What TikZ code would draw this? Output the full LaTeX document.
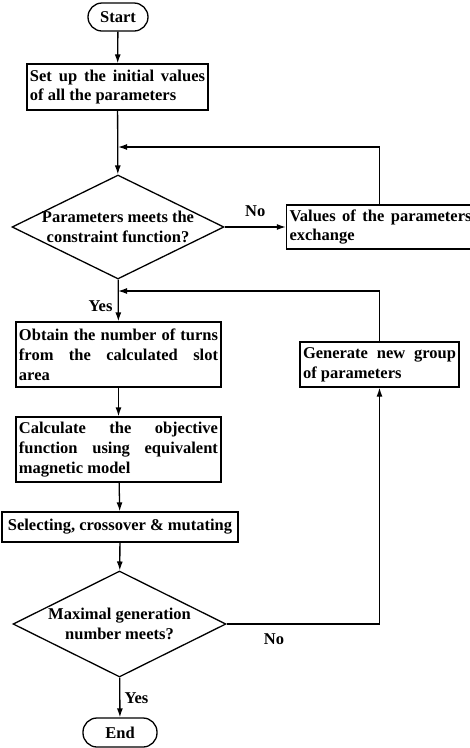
\documentclass[tikz,border=0pt]{standalone}
\usepackage{fontspec}
\setmainfont{Liberation Serif}
\usetikzlibrary{arrows.meta,calc,positioning,shapes.geometric}

\tikzset{
  flowbox/.style={draw, line width=1.3pt, inner xsep=3pt, inner ysep=2pt, align=justify},
  termbox/.style={draw, line width=1.3pt, rounded corners=14pt, minimum height=28pt, inner sep=0pt},
  decision/.style={draw, line width=1.3pt, diamond, align=center, inner xsep=-3pt, inner ysep=-2pt,
    shape aspect=2.04, minimum width=212pt, minimum height=104pt},
  flow/.style={line width=1.3pt, -{Latex[length=9pt,width=6pt]}},
}

\begin{document}
\begin{tikzpicture}[x=1pt, y=-1pt, font=\fontsize{16.5}{19.8}\selectfont\bfseries, line join=miter]
  \useasboundingbox (0,0) rectangle (470,748);

  % Main column.
  \node[termbox, minimum width=60pt] (start) at (118,17) {Start};
  \node[flowbox, text width=175pt, minimum height=46pt] (init) at (117.5,87)
    {Set up the initial values\linebreak of all the parameters};
  \node[decision] (check) at (118,227) {Parameters meets the\\constraint function?};
  \node[flowbox, text width=199pt, minimum height=65pt] (turns) at (118.5,354.5)
    {Obtain the number of turns\linebreak from the calculated slot\linebreak area};
  \node[flowbox, text width=199pt, minimum height=65pt] (objfun) at (118.5,449.5)
    {Calculate the objective\linebreak function using equivalent\linebreak magnetic model};
  \node[flowbox, align=center, minimum width=236pt, minimum height=30pt] (genop) at (120,527)
    {Selecting, crossover \& mutating};
  \node[decision, minimum width=213pt, minimum height=106pt] (maxgen) at (119.5,624)
    {Maximal generation\\number meets?};
  \node[termbox, minimum width=74pt, minimum height=29pt] (stop) at (120,732.5) {End};

  % Side column (its box runs past the right edge).
  \node[flowbox, text width=182pt, minimum height=44pt] (swap) at (380.5,227)
    {Values of the parameters\linebreak exchange};
  \node[flowbox, text width=153pt, minimum height=45pt] (newgroup) at (379.5,364.5)
    {Generate new group\linebreak of parameters};

  \coordinate (join1) at (118,147);
  \coordinate (join2) at (118,291);
  \coordinate (turn2) at (379.5,624);

  % Connectors.
  \draw[flow] (start) -- (init);
  \draw[flow] (init) -- (check);
  \draw[flow] (check) -- node[above, pos=0.5, yshift=6pt] {No} (swap);
  \draw[flow] (swap.north -| newgroup.north) |- (join1);
  \draw[flow] (check) -- (turns);
  \node[left] (yes1) at (116,306) {Yes};
  \draw[flow] (newgroup) |- (join2);
  \draw[flow] (turns) -- (objfun);
  \draw[flow] (objfun) -- (genop);
  \draw[flow] (genop) -- (maxgen);
  \draw[flow] (maxgen.east) -- (turn2) -- (newgroup.south);
  \node (no2) at (274,639) {No};
  \draw[flow] (maxgen) -- (stop);
  \node[right] (yes2) at (121,698) {Yes};
\end{tikzpicture}
\end{document}
